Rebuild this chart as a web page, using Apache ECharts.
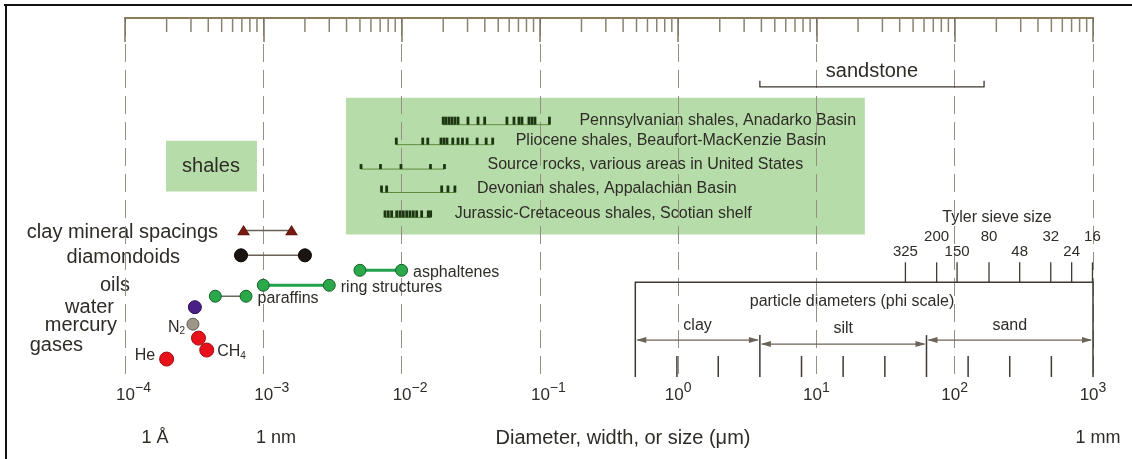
<!DOCTYPE html>
<html>
<head>
<meta charset="utf-8">
<script src="https://cdn.jsdelivr.net/npm/echarts@6/dist/echarts.min.js"></script>
<style>
  html, body { margin: 0; padding: 0; background: #fff; }
  #poreChart { width: 1132px; height: 459px; }
</style>
</head>
<body>
<div id="poreChart"></div>
<script>
// axis ticks (um, log scale)
var decadeExponents = [-4, -3, -2, -1, 0, 1, 2, 3];
var minorMultiples = [2, 3, 4, 5, 6, 7, 8, 9];

// shale pore-throat size measurements (um)
var shaleNames = [
  'Pennsylvanian shales, Anadarko Basin',
  'Pliocene shales, Beaufort-MacKenzie Basin',
  'Source rocks, various areas in United States',
  'Devonian shales, Appalachian Basin',
  'Jurassic-Cretaceous shales, Scotian shelf'
];
var shaleTicks = [
  [0.0200, 0.0209, 0.0220, 0.0231, 0.0243, 0.0256, 0.0302, 0.0357, 0.0399, 0.0578, 0.0650, 0.0706, 0.0742, 0.0834, 0.0877, 0.0922, 0.1173],
  [0.00916, 0.01423, 0.01547, 0.01927, 0.02026, 0.0213, 0.02346, 0.0256, 0.02757, 0.0298, 0.0352, 0.0409, 0.0456],
  [0.00509, 0.00704, 0.0099, 0.01618, 0.02043],
  [0.00716, 0.0078, 0.0195, 0.02165, 0.0243],
  [0.00759, 0.00801, 0.00848, 0.00922, 0.00974, 0.01029, 0.01089, 0.0115, 0.01215, 0.01286, 0.01397, 0.0156, 0.01623]
];

// molecules (um)
var clayMineralSpacings = [7.2e-4, 1.6e-3];
var diamondoids = [6.9e-4, 2.0e-3];
var asphaltenes = [5.0e-3, 1.0e-2];
var ringStructures = [1.0e-3, 3.0e-3];
var paraffins = [4.5e-4, 7.5e-4];
var water = [3.2e-4];
var mercury = [3.1e-4];
var gasNames = ['He', 'N{sub|2}', 'CH{sub|4}'];
var gasSizes = [2.0e-4, 3.4e-4, 3.9e-4];

// ranges (um)
var sandstoneRange = [3.9, 163];
var shaleStudyRange = [3.96e-3, 22.4];
var shaleTagRange = [1.98e-4, 9.0e-4];
var phiClassNames = ['clay', 'silt', 'sand'];
var phiClassBreaks = [0.49, 3.9, 62.5, 1000];
var phiTicks = [0.98, 1.95, 7.8, 15.6, 31.25, 125, 250, 500];
var tylerMesh = ['325', '200', '150', '80', '48', '32', '24', '16'];
var tylerOpening = [44, 74, 104, 177, 295, 495, 701, 991];

// vertical layout (hidden y axis, 0 at top)
var lv = {
  sandstone: 6.9, boxTop: 8.0, boxBottom: 21.7, tagTop: 12.3, tagBottom: 17.4,
  shaleRows: [10.7, 12.7, 15.15, 17.5, 20.0],
  clay: 21.3, diamondoids: 23.8, asphaltenes: 25.3, ring: 26.8, paraffins: 27.9,
  water: 29.0, mercury: 30.7, gases: [34.2, 32.1, 33.3],
  tylerTop: 24.5, phiTop: 26.5, phiBottom: 36, phiDivTop: 31.8, phiTickTop: 33.9,
  arrows: [32.3, 32.7, 32.3]
};
var shaleTickLen = [8, 7, 5, 7, 7];
var shaleLabelGap = [30, 23, 43, 22, 24];

var FONT = '"Liberation Sans", Arial, sans-serif';
var TEXT = '#2f2b27';
var GREEN_BG = '#b6dca9';

var topMinor = [];
decadeExponents.slice(0, -1).forEach(function (e) {
  minorMultiples.forEach(function (m) { topMinor.push([m * Math.pow(10, e), 0]); });
});

function pairSeries(values, level, symbol, size, color, border, lineColor, lineWidth, label) {
  var data = values.map(function (v) { return [v, level]; });
  if (label) {
    data[data.length - 1] = {
      value: data[data.length - 1],
      label: { show: true, position: 'right', distance: 5, offset: [0, 2], formatter: label,
        color: TEXT, fontSize: 16, fontFamily: FONT }
    };
  }
  return {
    type: 'line', data: data, symbol: symbol, symbolSize: size, showSymbol: true, z: 4,
    itemStyle: { color: color, borderColor: border, borderWidth: 1, opacity: 1 },
    lineStyle: { color: lineColor, width: lineWidth }
  };
}

function txt(text, x, y, size, align, extra) {
  var s = { text: text, x: x, y: y, fill: TEXT, font: size + 'px ' + FONT,
    textAlign: align || 'center', textVerticalAlign: 'middle' };
  return { type: 'text', silent: true, style: Object.assign(s, extra || {}) };
}

var chart = echarts.init(document.getElementById('poreChart'));
var option = {
  animation: false,
  grid: { left: 125, right: 39, top: 18, bottom: 82 },
  xAxis: [
    {
      type: 'log', logBase: 10, min: 1e-4, max: 1e3, splitNumber: 7,
      axisLine: { lineStyle: { color: '#5a5248', width: 1.5 } },
      axisTick: { show: true, length: 5, lineStyle: { color: '#5a5248' } },
      axisLabel: {
        margin: 4, color: TEXT, fontFamily: FONT,
        formatter: function (value) {
          var e = Math.round(Math.log10(value));
          if (e < 0) return '{pad|}{b|10}{s|\u2212' + (-e) + '}';
          return '{b|10}{s|' + e + '}';
        },
        rich: {
          pad: { width: 17 },
          b: { fontSize: 17, fontFamily: FONT, color: TEXT },
          s: { fontSize: 14, fontFamily: FONT, color: TEXT, padding: [0, 0, 14, 0] }
        }
      },
      splitLine: { show: true, lineStyle: { color: '#958f83', width: 1, type: [18, 8] } }
    },
    {
      type: 'log', logBase: 10, min: 1e-4, max: 1e3, splitNumber: 7, position: 'top',
      axisLine: { lineStyle: { color: '#8a7d58', width: 2 } },
      axisTick: { show: true, inside: true, length: 24, lineStyle: { color: '#7d7666', width: 1.5 } },
      axisLabel: { show: false },
      splitLine: { show: false }
    }
  ],
  yAxis: { type: 'value', min: 0, max: 36, inverse: true, show: false },
  series: [
    // green backgrounds
    {
      type: 'custom', z: -1, silent: true,
      data: [[shaleStudyRange[0], lv.boxTop, shaleStudyRange[1], lv.boxBottom],
             [shaleTagRange[0], lv.tagTop, shaleTagRange[1], lv.tagBottom]],
      renderItem: function (params, api) {
        var a = api.coord([api.value(0), api.value(1)]);
        var b = api.coord([api.value(2), api.value(3)]);
        return { type: 'rect', shape: { x: a[0], y: a[1], width: b[0] - a[0], height: b[1] - a[1] },
          style: { fill: GREEN_BG } };
      }
    },
    // top axis minor ticks
    {
      type: 'custom', xAxisIndex: 1, silent: true, z: 3,
      data: topMinor,
      renderItem: function (params, api) {
        var p = api.coord([api.value(0), 0]);
        return { type: 'line', shape: { x1: p[0], y1: p[1], x2: p[0], y2: p[1] + 14 },
          style: { stroke: '#8a8372', lineWidth: 1.5 } };
      }
    },
    // shale distributions
    {
      type: 'custom', silent: true, z: 3,
      data: shaleTicks.map(function (t, i) { return [t[0], lv.shaleRows[i], i]; }),
      renderItem: function (params, api) {
        var i = api.value(2);
        var ticks = shaleTicks[i];
        var y = lv.shaleRows[i];
        var h = shaleTickLen[i];
        var a = api.coord([ticks[0], y]);
        var b = api.coord([ticks[ticks.length - 1], y]);
        var c = [{ type: 'line', shape: { x1: a[0], y1: a[1], x2: b[0], y2: b[1] },
          style: { stroke: '#5f8a3c', lineWidth: 1 } }];
        ticks.forEach(function (v) {
          var p = api.coord([v, y]);
          c.push({ type: 'rect', shape: { x: p[0] - 1.4, y: p[1] - h, width: 2.8, height: h },
            style: { fill: '#1c3612' } });
        });
        c.push(txt(shaleNames[i], b[0] + shaleLabelGap[i], b[1] - 4, 16, 'left'));
        return { type: 'group', children: c };
      }
    },
    // sandstone bracket
    {
      type: 'custom', silent: true, z: 3,
      data: [[sandstoneRange[0], lv.sandstone, sandstoneRange[1]]],
      renderItem: function (params, api) {
        var a = api.coord([api.value(0), api.value(1)]);
        var b = api.coord([api.value(2), api.value(1)]);
        var m = api.coord([Math.sqrt(api.value(0) * api.value(2)), api.value(1)]);
        return { type: 'group', children: [
          { type: 'polyline', shape: { points: [[a[0], a[1] - 6], [a[0], a[1]], [b[0], b[1]], [b[0], b[1] - 6]] },
            style: { stroke: '#3d3731', lineWidth: 1.3, fill: null } },
          txt('sandstone', m[0], a[1] - 15, 20, 'center')
        ] };
      }
    },
    // phi scale panel + Tyler sieve
    {
      type: 'custom', silent: true, z: 3,
      data: [[phiClassBreaks[0], lv.phiTop]],
      renderItem: function (params, api) {
        var c = [];
        var dark = '#3f3933', arrowCol = '#6b6358';
        var tl = api.coord([phiClassBreaks[0], lv.phiTop]);
        var br = api.coord([phiClassBreaks[phiClassBreaks.length - 1], lv.phiBottom]);
        c.push({ type: 'polyline', shape: { points: [[tl[0], br[1]], [tl[0], tl[1]], [br[0], tl[1]], [br[0], br[1]]] },
          style: { stroke: dark, lineWidth: 1.5, fill: null } });
        phiClassBreaks.slice(1, -1).forEach(function (v) {
          var p = api.coord([v, lv.phiDivTop]);
          c.push({ type: 'line', shape: { x1: p[0], y1: p[1], x2: p[0], y2: br[1] }, style: { stroke: dark, lineWidth: 1.5 } });
        });
        phiTicks.forEach(function (v) {
          var p = api.coord([v, lv.phiTickTop]);
          c.push({ type: 'line', shape: { x1: p[0], y1: p[1], x2: p[0], y2: br[1] }, style: { stroke: dark, lineWidth: 1.5 } });
        });
        phiClassNames.forEach(function (n, i) {
          var a = api.coord([phiClassBreaks[i], lv.arrows[i]]);
          var b = api.coord([phiClassBreaks[i + 1], lv.arrows[i]]);
          var m = api.coord([Math.sqrt(phiClassBreaks[i] * phiClassBreaks[i + 1]), lv.arrows[i]]);
          c.push({ type: 'line', shape: { x1: a[0] + 2, y1: a[1], x2: b[0] - 2, y2: b[1] }, style: { stroke: arrowCol, lineWidth: 1.2 } });
          c.push({ type: 'polygon', shape: { points: [[a[0] + 1, a[1]], [a[0] + 11, a[1] - 3], [a[0] + 11, a[1] + 3]] }, style: { fill: arrowCol } });
          c.push({ type: 'polygon', shape: { points: [[b[0] - 1, b[1]], [b[0] - 11, b[1] - 3], [b[0] - 11, b[1] + 3]] }, style: { fill: arrowCol } });
          c.push(txt(n, m[0], m[1] - 15, 16, 'center'));
        });
        tylerOpening.forEach(function (v, i) {
          var p = api.coord([v, lv.tylerTop]);
          c.push({ type: 'line', shape: { x1: p[0], y1: p[1], x2: p[0], y2: tl[1] }, style: { stroke: dark, lineWidth: 1.3 } });
          c.push(txt(tylerMesh[i], p[0], p[1] - (i % 2 ? 25 : 10), 15, 'center'));
        });
        return { type: 'group', children: c };
      }
    },
    pairSeries(clayMineralSpacings, lv.clay, 'triangle', [11, 9], '#7a1b12', '#5a120c', '#6a6055', 1.5),
    pairSeries(diamondoids, lv.diamondoids, 'circle', 13, '#1b1410', '#000', '#6a6055', 1.5),
    pairSeries(asphaltenes, lv.asphaltenes, 'circle', 12, '#2ba84a', '#14602a', '#22a04a', 3, 'asphaltenes'),
    pairSeries(ringStructures, lv.ring, 'circle', 12, '#2ba84a', '#14602a', '#22a04a', 3, 'ring structures'),
    pairSeries(paraffins, lv.paraffins, 'circle', 12, '#2ba84a', '#14602a', '#6a6a60', 1.5, 'paraffins'),
    {
      type: 'scatter', z: 4, symbolSize: 13,
      data: water.map(function (v) { return [v, lv.water]; }),
      itemStyle: { color: '#4a1f86', borderColor: '#2c0f55', borderWidth: 1, opacity: 1 }
    },
    {
      type: 'scatter', z: 4, symbolSize: 12,
      data: mercury.map(function (v) { return [v, lv.mercury]; }),
      itemStyle: { color: '#9d978a', borderColor: '#615d55', borderWidth: 1, opacity: 1 }
    },
    {
      type: 'scatter', z: 4, symbolSize: 14,
      itemStyle: { color: '#e8101a', borderColor: '#a00a0f', borderWidth: 1, opacity: 1 },
      data: gasSizes.map(function (v, i) {
        var pos = [
          { position: 'left', distance: 4, offset: [0, -3] },
          { position: 'left', distance: 6, offset: [0, -11] },
          { position: 'right', distance: 3, offset: [0, 2] }
        ][i];
        return {
          value: [v, lv.gases[i]],
          label: Object.assign({
            show: true, formatter: gasNames[i], color: TEXT, opacity: 1, fontSize: 16, fontFamily: FONT,
            textBorderWidth: 0,
            rich: { sub: { fontSize: 10, fontFamily: FONT, color: TEXT, padding: [9, 0, 0, 0] } }
          }, pos)
        };
      })
    }
  ],
  graphic: [
    { type: 'line', silent: true, shape: { x1: 4, y1: 5, x2: 1132, y2: 5 }, style: { stroke: '#111', lineWidth: 2 } },
    { type: 'line', silent: true, shape: { x1: 6, y1: 5, x2: 6, y2: 459 }, style: { stroke: '#111', lineWidth: 2 } },
    txt('shales', 211, 166, 20, 'center'),
    txt('clay mineral spacings', 218, 232, 20, 'right'),
    txt('diamondoids', 180, 257, 20, 'right'),
    txt('oils', 130, 285, 20, 'right'),
    txt('water', 114, 307, 20, 'right'),
    txt('mercury', 117, 325, 20, 'right'),
    txt('gases', 83, 345, 20, 'right'),
    txt('Tyler sieve size', 997, 218, 16, 'center'),
    txt('particle diameters (phi scale)', 852, 302, 16, 'center'),
    txt('1 \u00c5', 155, 438, 18, 'center'),
    txt('1 nm', 276, 438, 18, 'center'),
    txt('Diameter, width, or size (\u03bcm)', 623, 438, 20, 'center'),
    txt('1 mm', 1098, 438, 18, 'center')
  ]
};
chart.setOption(option);
</script>
</body>
</html>
